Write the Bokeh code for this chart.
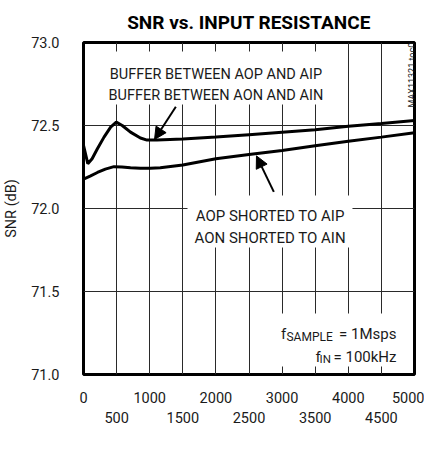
import math
from bokeh.plotting import figure
from bokeh.models import FixedTicker, Label, Arrow, NormalHead, BoxAnnotation, Grid
from bokeh.embed import file_html
from bokeh.resources import INLINE

# ---------------- data ----------------
title_text = "SNR vs. INPUT RESISTANCE"
y_label = "SNR (dB)"
x_ticks = [0, 500, 1000, 1500, 2000, 2500, 3000, 3500, 4000, 4500, 5000]
y_ticks = [71.0, 71.5, 72.0, 72.5, 73.0]

R_buffer = [0, 65, 130, 210, 310, 410, 495, 585, 710, 860, 960, 1110,
            1500, 2000, 2500, 3000, 3500, 4000, 4500, 5000]
snr_buffer = [72.38, 72.27, 72.30, 72.36, 72.43, 72.49, 72.52, 72.50, 72.46,
              72.425, 72.412, 72.412, 72.418, 72.43, 72.445, 72.46, 72.475,
              72.495, 72.512, 72.53]

R_short = [0, 100, 210, 330, 460, 580, 710, 860, 1010, 1160, 1500, 2000,
           2500, 3000, 3500, 4000, 4500, 5000]
snr_short = [72.177, 72.195, 72.217, 72.237, 72.252, 72.250, 72.245, 72.242,
             72.242, 72.246, 72.262, 72.30, 72.325, 72.35, 72.378, 72.405,
             72.43, 72.456]

buffer_lines = ["BUFFER BETWEEN AOP AND AIP", "BUFFER BETWEEN AON AND AIN"]
short_lines = ["AOP SHORTED TO AIP", "AON SHORTED TO AIN"]
doc_id = "MAX11321 toc09"

FONT = "Roboto"
TXT = "#1a1a1a"
GRID = "#2a2a2a"
Y0, Y1 = y_ticks[0], y_ticks[-1]

p = figure(frame_width=331, frame_height=332, x_range=(x_ticks[0], x_ticks[-1]),
           y_range=(Y0, Y1), output_backend="svg", toolbar_location=None,
           min_border_left=75, min_border_right=10, min_border_top=36,
           min_border_bottom=74, background_fill_color="white",
           border_fill_color="white")

p.outline_line_color = "black"
p.outline_line_width = 3

# title
p.title.text = title_text
p.title.align = "center"
p.title.text_font = FONT
p.title.text_font_style = "bold"
p.title.text_font_size = "19px"
p.title.text_color = "black"
p.title.standoff = 17

# axes
xa = p.xaxis[0]
xa.ticker = FixedTicker(ticks=x_ticks)
xa.major_label_overrides = {t: ("\n" + str(t)) if t % 1000 else str(t) for t in x_ticks}
ya = p.yaxis[0]
ya.ticker = FixedTicker(ticks=y_ticks)
ya.major_label_overrides = {t: f"{t:.1f}" for t in y_ticks}
ya.axis_label = y_label
ya.axis_label_standoff = 8
ya.axis_label_text_font = FONT
ya.axis_label_text_font_style = "normal"
ya.axis_label_text_font_size = "14.5px"
ya.axis_label_text_color = TXT
for ax in (xa, ya):
    ax.axis_line_color = None
    ax.major_tick_line_color = None
    ax.minor_tick_line_color = None
    ax.major_label_text_font = FONT
    ax.major_label_text_font_size = "14.5px"
    ax.major_label_text_color = TXT
xa.major_label_standoff = 9
ya.major_label_standoff = 18

# grids, one per dimension
p.xgrid.visible = False
p.ygrid.visible = False
p.add_layout(Grid(dimension=0, ticker=FixedTicker(ticks=x_ticks),
                  grid_line_color=GRID, grid_line_width=1, grid_line_alpha=1.0))
p.add_layout(Grid(dimension=1, ticker=FixedTicker(ticks=y_ticks),
                  grid_line_color=GRID, grid_line_width=1, grid_line_alpha=1.0))

# white boxes behind the annotation texts
for l, r, b, t in [(332, 3731, 72.627, 72.946), (1571, 4063, 71.765, 72.078),
                   (2870, 4864, 71.048, 71.367)]:
    p.add_layout(BoxAnnotation(left=l, right=r, bottom=b, top=t,
                               fill_color="white", fill_alpha=1.0,
                               line_color=None))

# curves
p.line(R_buffer, snr_buffer, line_color="black", line_width=3)
p.line(R_short, snr_short, line_color="black", line_width=3)

def lab(x, y, text, size="15px", align="left", angle=0.0, baseline="alphabetic",
        units="data"):
    p.add_layout(Label(x=x, y=y, text=text, text_font=FONT, text_font_size=size,
                       text_color=TXT, text_align=align, text_baseline=baseline,
                       angle=angle, x_units=units, y_units=units))

lab(2000, 72.809, buffer_lines[0], size="14.5px", align="center")
lab(2000, 72.683, buffer_lines[1], size="14.5px", align="center")
lab(2820, 71.954, short_lines[0], align="center")
lab(2820, 71.823, short_lines[1], align="center")

# f_SAMPLE = 1Msps / f_IN = 100kHz
lab(2983, 71.241, "f", size="15px")
lab(3066, 71.226, "SAMPLE", size="12px")
lab(4728, 71.241, "= 1Msps", size="15px", align="right")
lab(3505, 71.108, "f", size="15px")
lab(3565, 71.093, "IN", size="11.5px")
lab(4728, 71.108, "= 100kHz", size="15px", align="right")

# texts outside the frame, in canvas units (from the canvas top-left)
try:
    from bokeh.core.enums import CoordinateUnits  # noqa: F401
    outer = "canvas"
except Exception:
    outer = "screen"

def page_to_canvas(px, py):
    if outer == "canvas":
        return px - 8, py - 8
    return px - 83, 376 - py

cx, cy = page_to_canvas(221, 445.5)
lab(cx, cy, "R", size="15px", units=outer)
cx, cy = page_to_canvas(230.5, 448)
lab(cx, cy, "IN", size="11px", units=outer)
cx, cy = page_to_canvas(243, 445.5)
lab(cx, cy, "(\u03a9)", size="15px", units=outer)
cx, cy = page_to_canvas(419.5, 115)
lab(cx, cy, doc_id, size="9px", angle=math.pi / 2, baseline="middle", units=outer)

# arrows
p.add_layout(Arrow(end=NormalHead(size=12, fill_color="black", line_color="black"),
                   x_start=1395, y_start=72.613, x_end=1073, y_end=72.416,
                   line_color="black", line_width=2))
p.add_layout(Arrow(end=NormalHead(size=12, fill_color="black", line_color="black"),
                   x_start=2875, y_start=72.10, x_end=2613, y_end=72.317,
                   line_color="black", line_width=2))

open("out.html", "w").write(file_html(p, INLINE))
